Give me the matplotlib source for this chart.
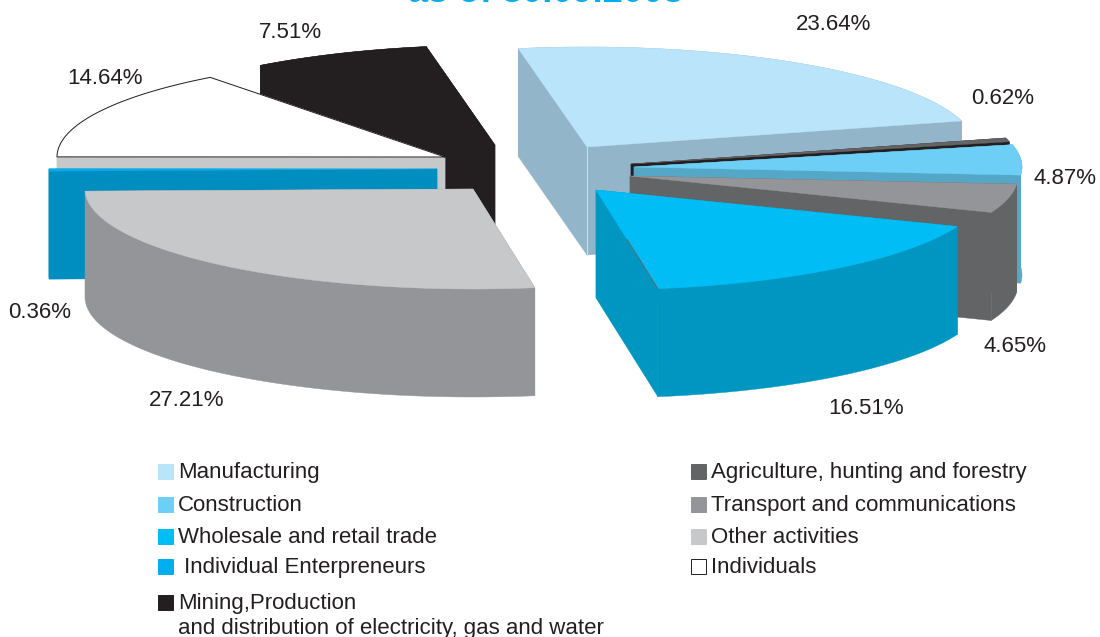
import numpy as np
import matplotlib
matplotlib.use('Agg')
import matplotlib.pyplot as plt
from matplotlib.patches import Polygon, Rectangle

plt.rcParams['font.family'] = ['Liberation Sans', 'DejaVu Sans']

# slices, clockwise from the start angle
categories = ['Manufacturing', 'Agriculture, hunting and forestry', 'Construction',
              'Transport and communications', 'Wholesale and retail trade', 'Other activities',
              ' Individual Enterpreneurs', 'Individuals',
              'Mining,Production\nand distribution of electricity, gas and water']
shares = [23.64, 0.62, 4.87, 4.65, 16.51, 27.21, 0.36, 14.64, 7.51]

top_colors = ['#bae4f9', '#636466', '#6dcff6', '#939598', '#00bdf5', '#c7c8ca', '#00aeef', '#ffffff', '#231f20']
side_colors = ['#93b5c9', '#231f20', '#55a7c8', '#636466', '#0096c2', '#939598', '#008dc0', '#c7c8ca', '#231f20']

# where each exploded slice has its tip on the page, in pixels
tips = [(587, 147), (631, 164), (634, 167), (630, 176), (596, 190),
        (473, 189), (437, 169), (445, 157), (495, 145)]
label_pos = [(834, 24), (1003, 99), (1065, 178), (1015, 347), (866, 408),
             (187, 400), (40, 312), (105, 78), (290, 32)]
legend_pos = [(158, 471), (691, 471), (158, 504), (691, 504), (158, 536),
              (691, 536), (158, 566), (691, 566), (158, 602)]

# pie is a flat ellipse pushed down by depth
rx, ry = 388, 100
depth = 108
start_angle = -10.2
draw_order = [0, 1, 2, 3, 4, 8, 7, 6, 5]


def rim(tip, t):
    t = np.radians(t)
    return np.column_stack([tip[0] + rx * np.sin(t), tip[1] - ry * np.cos(t)])


def down(pts):
    return pts + np.array([0, depth])


def draw_slice(ax, tip, t0, t1, top, side):
    arc = rim(tip, np.linspace(t0, t1, 80))
    tip_pt = np.array([tip], dtype=float)
    # radial faces first, then the rim wall, the top last
    for end in (arc[:1], arc[-1:]):
        face = np.vstack([tip_pt, end, down(end), down(tip_pt)])
        ax.add_patch(Polygon(face, closed=True, fc=side, ec=side, lw=0.3))
    wall = np.vstack([arc, down(arc)[::-1]])
    ax.add_patch(Polygon(wall, closed=True, fc=side, ec=side, lw=0.3))
    ax.add_patch(Polygon(np.vstack([tip_pt, arc]), closed=True, fc=top, ec=top, lw=0.3))
    return arc


fig = plt.figure(figsize=(11, 6.37), dpi=100)
ax = fig.add_axes([0, 0, 1, 1])
ax.set_xlim(0, 1100)
ax.set_ylim(637, 0)
ax.axis('off')

edges = start_angle + np.cumsum([0] + shares) * 360 / sum(shares)

for i in draw_order:
    arc = draw_slice(ax, tips[i], edges[i], edges[i + 1], top_colors[i], side_colors[i])
    if categories[i] == 'Individuals':
        # white slice needs an outline
        line = np.vstack([[tips[i]], arc[:1], arc, [tips[i]]])
        ax.plot(line[:, 0], line[:, 1], color='#231f20', lw=0.7)
    if categories[i].startswith('Wholesale'):
        # grey hairline left along the lower half of the cut edge
        ax.plot([(tips[i][0] + arc[-1, 0]) / 2, arc[-1, 0]], [(tips[i][1] + arc[-1, 1]) / 2, arc[-1, 1]],
                color='#636466', lw=0.7)

# seam between the two cut faces of the first slice
ax.plot([tips[0][0]] * 2, [tips[0][1], tips[0][1] + depth], color='#c9dbe6', lw=0.8)

# title runs off the top of the page, same as the source
ax.text(546, 2.5, 'as of 30.09.2008', color='#00aeef', fontsize=26, fontweight='bold',
        ha='center', va='baseline', clip_on=False)

for v, (x, y) in zip(shares, label_pos):
    ax.text(x, y, f'{v:.2f}%', fontsize=16, color='#231f20', ha='center', va='center')

# legend by hand, two columns
for name, c, (x, y) in zip(categories, top_colors, legend_pos):
    ax.add_patch(Rectangle((x, y - 7.5), 15, 15, fc=c, ec='#231f20' if c == '#ffffff' else c, lw=0.7))
    for k, part in enumerate(name.split('\n')):
        ax.text(x + 20, y + 7 + 25 * k, part, fontsize=16, color='#231f20', va='baseline')

fig.savefig('out.png', dpi=100)
